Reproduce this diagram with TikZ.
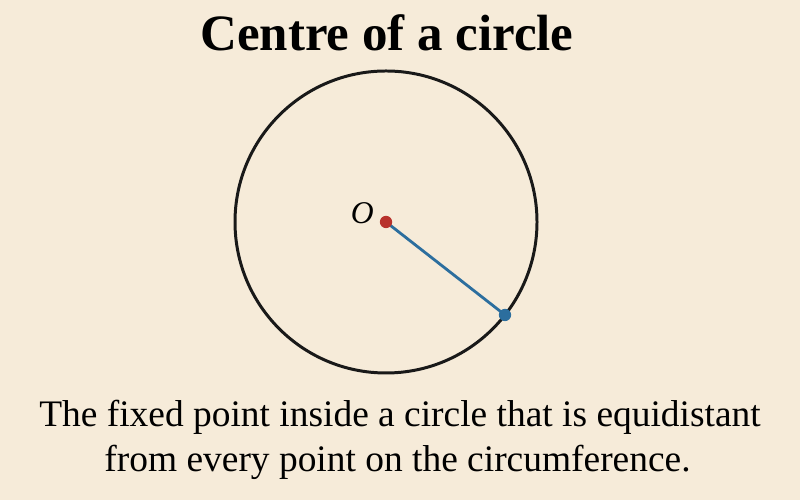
\documentclass[tikz,border=0pt]{standalone}
\usepackage{fontspec}
\setmainfont{Liberation Serif}
\usetikzlibrary{positioning}
\definecolor{paper}{HTML}{F6EBD9}
\definecolor{dotred}{HTML}{B8322C}
\definecolor{radblue}{HTML}{2C6E9E}
\tikzset{
  dot/.style={circle,inner sep=0pt,minimum size=7pt},
  rim/.style={line width=1.7pt,black!90},
  capline/.style={anchor=base,font=\fontsize{21.3}{25}\selectfont}
}
\begin{document}
\begin{tikzpicture}
\fill [paper] (0,0) rectangle (16,10);
\useasboundingbox (0,0) rectangle (16,10);
% title
\node (title) [anchor=base] at (7.74,8.98) {\fontsize{29}{34}\selectfont\bfseries Centre of a circle};
% circle and centre
\coordinate (C) at (7.72,5.56);
\draw [rim] (C) circle (3.02);
\draw [radblue,line width=1.6pt] (C) -- ++(-38:3.02) coordinate (P);
\node (O) [dot,fill=dotred] at (C) {};
\node (Q) [dot,fill=radblue] at (P) {};
\node (Olab) [anchor=base east,inner sep=0pt] at ([xshift=-0.24cm,yshift=-0.03cm]C) {\fontsize{18}{22}\selectfont\itshape O};
% caption
\node (cap1) [capline] at (8.0,1.46) {The fixed point inside a circle that is equidistant};
\node (cap2) [capline] at (7.95,0.56) {from every point on the circumference.};
\end{tikzpicture}
\end{document}
